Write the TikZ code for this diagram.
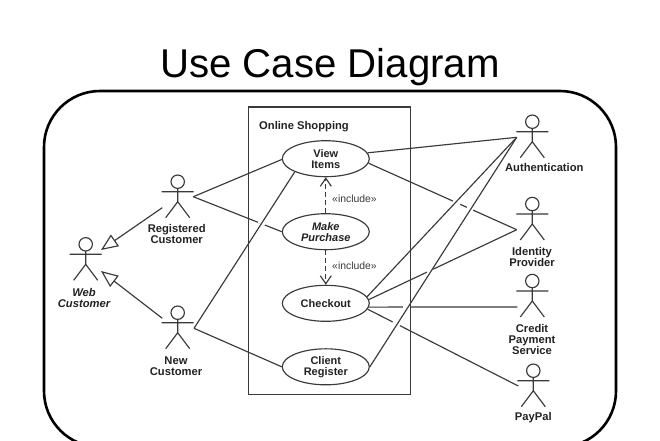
\documentclass[tikz,border=0pt]{standalone}
\usepackage{fontspec}
\setmainfont{Liberation Sans}
\usetikzlibrary{shapes.geometric,arrows.meta}
\definecolor{ink}{HTML}{3A3A3A}
\definecolor{txt}{HTML}{222222}
\tikzset{
  x=1pt,y=-1pt,
  conn/.style={draw=ink,line width=1.15pt},
  frame/.style={draw=black,line width=2.6pt,rounded corners=56pt},
  sysbox/.style={draw=ink,line width=1.15pt},
  usecase/.style={ellipse,draw=ink,fill=white,line width=1.15pt,minimum width=87pt,minimum height=36pt,inner sep=0pt,align=center,font=\fontsize{11}{11}\selectfont\bfseries,text=txt},
  lbl/.style={align=center,inner sep=0pt,font=\fontsize{11.2}{11}\selectfont\bfseries,text=txt},
  inherit/.style={conn,-{Triangle[open,length=17pt,width=14pt,line width=1.15pt]}},
  incl/.style={conn,dashed,dash pattern=on 5pt off 3pt,-{Straight Barb[length=8pt,width=11pt,line width=1.15pt]}},
  incltxt/.style={inner sep=0pt,font=\fontsize{10.4}{11}\selectfont,text=ink},
  hop/.style={draw=white,line width=3pt},
  actor/.pic={
    \draw[ink,line width=1.15pt] (0,0) circle[radius=6.7pt];
    \draw[ink,line width=1.15pt] (0,6.7) -- (0,20) (-16,10) -- (16,10) (-12,36) -- (0,20) -- (12,36);
  }
}
\begin{document}
\begin{tikzpicture}
\clip (0,0) rectangle (660,440);
\fill[white] (0,0) rectangle (660,440);
\node[anchor=base,inner sep=0pt,font=\fontsize{40.2}{44}\selectfont,text=black] (title) at (330,77) {Use Case Diagram};
\draw[frame] (44,91) rectangle (616,447);
% actors
\coordinate (web) at (85.7,244.3);
\coordinate (reg) at (177.7,181.7);
\coordinate (new) at (177.7,312.7);
\coordinate (auth) at (532.3,121.7);
\coordinate (idp) at (532.3,204);
\coordinate (cred) at (532.3,281);
\coordinate (pay) at (533.3,370.7);
\foreach \a in {web,reg,new,auth,idp,cred,pay} {\pic at (\a) {actor};}
\node[lbl,font=\fontsize{11.2}{11}\selectfont\bfseries\itshape] (webl) at (84,298) {Web\\Customer};
\node[lbl] (regl) at (176.7,233.5) {Registered\\Customer};
\node[lbl] (newl) at (176,366) {New\\Customer};
\node[lbl] (authl) at (544.3,167.7) {Authentication};
\node[lbl] (idpl) at (532,256.7) {Identity\\Provider};
\node[lbl] (credl) at (532,339.3) {Credit\\Payment\\Service};
\node[lbl] (payl) at (533.3,417.3) {PayPal};
% connector ends near actors
\coordinate (regh) at (193.3,196.7);
\coordinate (newh) at (194,328.3);
\coordinate (regs) at (162.3,207.7);
\coordinate (news) at (162.3,318.3);
\coordinate (webt1) at (101,250);
\coordinate (webt2) at (101,271);
\coordinate (authh) at (516.7,137.3);
\coordinate (idph) at (516.7,229.7);
\coordinate (credh) at (517.3,307);
\coordinate (payh) at (518.3,386);
% use cases
\node[usecase] (view) at (325.8,158.7) {View\\Items};
\node[usecase,font=\fontsize{11}{11}\selectfont\bfseries\itshape] (make) at (325.8,231.7) {Make\\Purchase};
\node[usecase] (chk) at (325.8,303.3) {Checkout};
\node[usecase] (cli) at (325.8,366.8) {Client\\Register};
% connectors broken by a line hop
\draw[conn] (regh) -- (make.west);
\draw[conn] (view.-6) -- (idph);
\draw[conn] (chk.5) -- (idph);
\draw[conn] (chk.-5) -- (credh);
\draw[conn] (chk.-8) -- (payh);
\draw[hop] (258.5,221.5) -- (265,224.4);
\draw[hop] (403,307) -- (409.5,307);
\draw[hop] (453,201.3) -- (460,204.4);
\draw[hop] (467,207.5) -- (473,210.2);
\draw[hop] (427,272) -- (433,269.2);
\draw[hop] (393,321.4) -- (400,325);
% unbroken connectors
\draw[conn] (regh) -- (view.181);
\draw[conn] (newh) -- (view.203);
\draw[conn] (newh) -- (cli.west);
\draw[conn] (view.8) -- (authh);
\draw[conn] (chk.9) -- (authh);
\draw[conn] (cli.0) -- (authh);
\draw[inherit] (regs) -- (webt1);
\draw[inherit] (news) -- (webt2);
\draw[incl] (make.north) -- (view.south);
\draw[incl] (make.south) -- (chk.north);
\node[incltxt] (inc1) at (354.5,199) {«include»};
\node[incltxt] (inc2) at (354.5,265.3) {«include»};
% system
\draw[sysbox] (248.3,107) rectangle (410.3,394.3);
\node[lbl,anchor=west] (sys) at (259,127) {Online Shopping};
\end{tikzpicture}
\end{document}
